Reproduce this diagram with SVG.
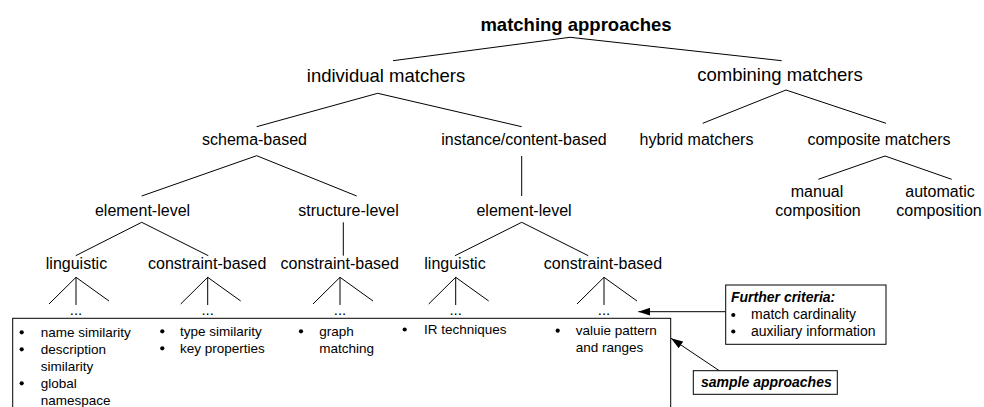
<svg xmlns="http://www.w3.org/2000/svg" width="984" height="407" viewBox="0 0 984 407">
  <style>
    text { font-family: "Liberation Sans", Arial, sans-serif; fill: #000; }
    .title { font-size: 18.5px; font-weight: bold; text-anchor: middle; }
    .l1 { font-size: 18.5px; text-anchor: middle; }
    .l2 { font-size: 16px; text-anchor: middle; }
    .item { font-size: 13.5px; }
    .crit { font-size: 14px; }
    .bi { font-size: 14px; font-weight: bold; font-style: italic; }
    .dots { font-size: 15px; text-anchor: middle; }
    .edge { stroke: #000; stroke-width: 1; fill: none; }
    .box { stroke: #000; stroke-width: 1; fill: #fff; }
    .bullet { fill: #000; }
  </style>
  <defs>
    <marker id="arrow" markerWidth="12" markerHeight="8" refX="12" refY="4" orient="auto" markerUnits="userSpaceOnUse">
      <path d="M0,0 L12,4 L0,8 Z" fill="#000"/>
    </marker>
    <!-- three-legged fan under each leaf category -->
    <path id="fan" d="M-27,26.7 L0,0 L33,23.7 M0,0 L0,27.7" class="edge"/>
  </defs>

  <!-- tree edges -->
  <g id="connectors">
    <path class="edge" d="M393,60.7 L570,37.3 L781.7,60.7"/>
    <path class="edge" d="M256.7,126.7 L377.7,93.3 L521.7,126.7"/>
    <path class="edge" d="M702.7,123.3 L786,90 L886,123.3"/>
    <path class="edge" d="M141.7,196 L256.7,155.7 L356.7,196"/>
    <path class="edge" d="M521.7,156 L521.7,196"/>
    <path class="edge" d="M818.3,179.3 L885,156 L951.7,179.3"/>
    <path class="edge" d="M75.7,255.7 L141.7,222.3 L208.3,255.7"/>
    <path class="edge" d="M343.3,222.3 L343.3,255.7"/>
    <path class="edge" d="M455,255.7 L521.7,222.3 L588.3,255.7"/>
    <use href="#fan" x="76" y="277.3"/>
    <use href="#fan" x="207.7" y="277.3"/>
    <use href="#fan" x="340" y="277.3"/>
    <use href="#fan" x="455.7" y="277.3"/>
    <use href="#fan" x="604" y="277.3"/>
    <path class="edge" d="M725.7,311.7 L638.3,311.7" marker-end="url(#arrow)"/>
    <path class="edge" d="M719.3,370.7 L671,338.3" marker-end="url(#arrow)"/>
  </g>

  <g id="n-root"><text class="title" x="576" y="31">matching approaches</text></g>
  <g id="n-individual"><text class="l1" x="386" y="82">individual matchers</text></g>
  <g id="n-combining"><text class="l1" x="780" y="81">combining matchers</text></g>

  <g id="n-schema"><text class="l2" x="254.5" y="145">schema-based</text></g>
  <g id="n-instance"><text class="l2" x="524" y="145">instance/content-based</text></g>
  <g id="n-hybrid"><text class="l2" x="696.5" y="145">hybrid matchers</text></g>
  <g id="n-composite"><text class="l2" x="879" y="145">composite matchers</text></g>

  <g id="n-manual"><text class="l2" x="817" y="197">manual</text><text class="l2" x="818" y="216">composition</text></g>
  <g id="n-automatic"><text class="l2" x="940" y="197">automatic</text><text class="l2" x="939" y="216">composition</text></g>

  <g id="n-element-s"><text class="l2" x="142.5" y="216">element-level</text></g>
  <g id="n-structure"><text class="l2" x="348.5" y="216">structure-level</text></g>
  <g id="n-element-i"><text class="l2" x="524" y="216">element-level</text></g>

  <g id="n-ling-s"><text class="l2" x="76.5" y="269">linguistic</text><text class="dots" x="76" y="314.5">...</text></g>
  <g id="n-constr-s"><text class="l2" x="207.2" y="269">constraint-based</text><text class="dots" x="207.7" y="314.5">...</text></g>
  <g id="n-constr-st"><text class="l2" x="339.7" y="269">constraint-based</text><text class="dots" x="340" y="314.5">...</text></g>
  <g id="n-ling-i"><text class="l2" x="455" y="269">linguistic</text><text class="dots" x="455.7" y="314.5">...</text></g>
  <g id="n-constr-i"><text class="l2" x="603" y="269">constraint-based</text><text class="dots" x="604" y="314.5">...</text></g>

  <!-- sample approaches listing -->
  <g id="n-samples">
    <rect class="box" x="12.7" y="318.3" width="658" height="110"/>
    <circle class="bullet" cx="21.7" cy="332.3" r="2.1"/>
    <circle class="bullet" cx="21.7" cy="349.3" r="2.1"/>
    <circle class="bullet" cx="21.7" cy="383.3" r="2.1"/>
    <text class="item" x="40.7" y="336.5">name similarity</text>
    <text class="item" x="40.7" y="353.5">description</text>
    <text class="item" x="40.7" y="370.5">similarity</text>
    <text class="item" x="40.7" y="387.5">global</text>
    <text class="item" x="40.7" y="404.5">namespace</text>

    <circle class="bullet" cx="162.3" cy="331.3" r="2.1"/>
    <circle class="bullet" cx="162.3" cy="348.3" r="2.1"/>
    <text class="item" x="180" y="335.5">type similarity</text>
    <text class="item" x="180" y="352.5">key properties</text>

    <circle class="bullet" cx="301" cy="331.3" r="2.1"/>
    <text class="item" x="319.3" y="335.5">graph</text>
    <text class="item" x="319.3" y="352.5">matching</text>

    <circle class="bullet" cx="404.7" cy="329.5" r="2.1"/>
    <text class="item" x="424" y="333.5">IR techniques</text>

    <circle class="bullet" cx="557.7" cy="330.7" r="2.1"/>
    <text class="item" x="575.7" y="335">valuie pattern</text>
    <text class="item" x="575.7" y="352">and ranges</text>
  </g>

  <g id="n-criteria">
    <rect class="box" x="725.7" y="285" width="160.3" height="59.3"/>
    <text class="bi" x="731" y="301.5">Further criteria:</text>
    <circle class="bullet" cx="733.3" cy="315" r="2.1"/>
    <circle class="bullet" cx="733.3" cy="331.5" r="2.1"/>
    <text class="crit" x="751" y="319">match cardinality</text>
    <text class="crit" x="751" y="335.5">auxiliary information</text>
  </g>

  <g id="n-sample-label">
    <rect class="box" x="693.3" y="370.7" width="144" height="23.6"/>
    <text class="bi" x="701" y="386.7">sample approaches</text>
  </g>
</svg>
